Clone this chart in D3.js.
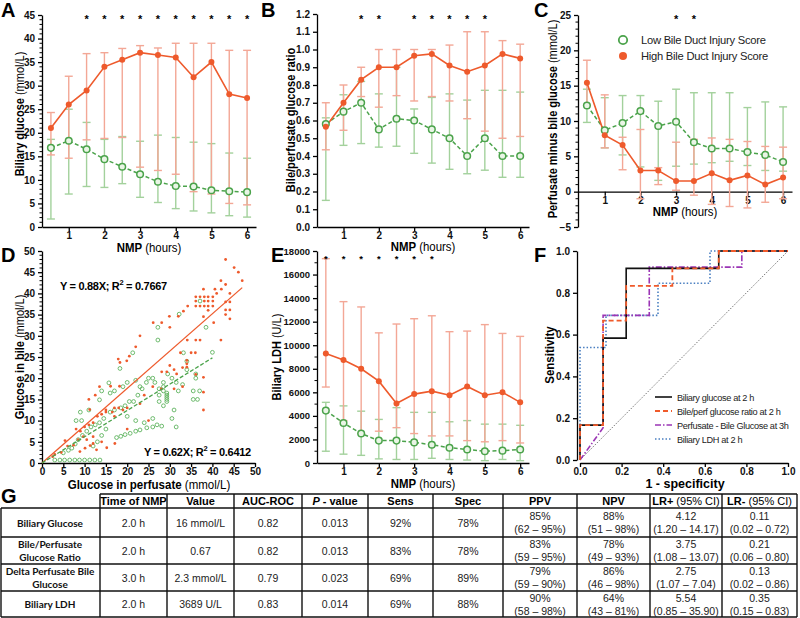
<!DOCTYPE html>
<html><head><meta charset="utf-8">
<script src="https://cdn.jsdelivr.net/npm/d3@7"></script>
<style>body{margin:0;background:#fff} svg{display:block;font-family:"Liberation Sans",Arial,sans-serif}</style>
</head><body><svg id="c" width="800" height="618"></svg>
<script>
// ---------------- DATA ----------------
const hours = [0.5,1,1.5,2,2.5,3,3.5,4,4.5,5,5.5,6];
// A: Biliary glucose
const aHighMean = [21,26,29,34,35.5,37,36.5,36,31.8,35,28.2,27.4];
const aHighUp   = [24.3,32,36.8,37,37.9,38.5,38,39,39,39,37.5,37.5];
const aHighLo   = [15.3,14.6,18.5,18.8,19,12.7,12,11.2,7.5,7,5,4.7];
const aLowMean  = [16.8,18.3,16.5,14.4,12.8,11.2,9.6,8.7,8.6,7.8,7.6,7.4];
const aLowUp    = [18.6,25,22.2,18.6,19.2,18.2,19.5,19,18,17.7,15.7,14.6];
const aLowLo    = [1.7,7,8.6,8.4,9.2,6.3,5.2,3.9,3.4,3,2.4,2.1];
const aStars    = [1.5,2,2.5,3,3.5,4,4.5,5,5.5,6];
// B: Bile/perfusate glucose ratio
const bHighMean = [0.565,0.70,0.83,0.90,0.90,0.965,0.975,0.91,0.875,0.91,0.975,0.95];
const bHighUp   = [0.70,0.80,0.90,1.0,1.0,1.0,1.0,1.025,1.10,1.10,1.05,1.03];
const bHighLo   = [0.435,0.545,0.735,0.675,0.74,0.71,0.735,0.71,0.61,0.54,0.50,0.51];
const bLowMean  = [0.58,0.65,0.70,0.55,0.61,0.60,0.55,0.50,0.40,0.50,0.40,0.40];
const bLowUp    = [0.615,0.745,0.82,0.75,0.90,0.665,0.73,0.75,0.715,0.77,0.77,0.76];
const bLowLo    = [0.15,0.46,0.47,0.45,0.455,0.415,0.36,0.325,0.30,0.32,0.28,0.28];
const bStars    = [1.5,2,3,3.5,4,4.5,5];
// C: Perfusate minus bile glucose
const cHighMean = [15.4,8.0,6.6,3.0,3.0,1.5,1.5,2.6,1.6,2.3,1.0,2.0];
const cHighUp   = [18.6,13.7,7.7,8.8,3.4,7.0,7.4,7.6,7.4,7.1,6.4,6.3];
const cHighLo   = [12.2,6.2,3.1,-1.0,1.0,0.2,-0.5,-1.8,-2.1,-2.3,-1.5,-1.0];
const cLowMean  = [12.2,8.7,9.7,11.4,9.3,9.9,7.0,6.1,6.1,5.6,5.2,4.2];
const cLowUp    = [14.5,13.3,13.6,13.6,12.8,14.5,14.0,14.0,14.0,11.9,12.7,12.0];
const cLowLo    = [9.8,6.2,5.2,3.5,1.6,3.6,3.9,4.1,4.3,3.7,3.0,2.9];
const cStars    = [3,3.5];
// E: Biliary LDH
const eHighMean = [9300,8750,8000,6950,5050,5850,6100,5750,6500,5750,6000,5150];
const eHighUp   = [17350,13700,13250,11050,11800,12250,12500,11150,11200,11750,11000,10750];
const eHighLo   = [6450,3600,2500,2700,3000,2500,2300,2300,1900,1800,1900,1700];
const eLowMean  = [4450,3400,2500,1900,1900,1750,1550,1300,1150,1000,1050,1150];
const eLowUp    = [5150,4850,4400,3700,4700,4300,4300,3500,3600,3300,3300,3200];
const eLowLo    = [1000,750,650,350,300,300,400,300,250,200,300,200];
const eStars    = [0.5,1,1.5,2,2.5,3,3.5];
// D: scatter (glucose in perfusate, glucose in bile)
const dHigh = [[43.1,48.0],[45.1,46.1],[46.1,45.0],[47.0,43.0],[42.0,43.0],[43.1,42.1],[40.6,41.0],[37.9,41.0],[42.1,41.0],[41.0,40.0],[44.1,40.0],
 [36.1,39.2],[37.1,39.2],[38.1,39.2],[39.0,39.2],[40.1,39.2],[36.1,38.2],[38.1,38.2],[39.0,38.2],[40.1,38.2],[36.1,37.0],[37.1,37.0],[38.1,37.0],[39.0,37.0],[40.1,37.0],
 [43.1,38.0],[44.1,38.0],[43.1,36.1],[44.1,36.1],[39.0,36.0],[33.2,35.8],[34.2,37.0],[29.9,34.6],[32.0,34.6],[26.1,33.1],[28.1,33.1],[30.0,32.0],[37.9,34.5],[40.3,33.1],[43.1,35.0],[44.1,34.0],[42.0,29.0],[34.1,29.0],[36.1,29.0],[37.1,29.0],[23.0,30.0],[22.0,27.4],[19.9,24.1],[20.5,25.2],[17.9,24.5],[18.3,23.7],
 [16.1,18.1],[18.2,18.1],[34.0,24.2],[34.0,23.4],[34.0,22.6],[28.1,21.5],[29.3,21.5],[31.6,21.0],[33.0,22.5],[36.1,20.9],[37.9,20.2],[37.9,16.7],[37.9,12.5],[30.0,23.0],[31.0,22.0],[32.5,26.0],[35.0,26.0],[36.0,26.0],[33.0,18.0],[31.0,17.5],[28.0,17.5],[26.0,18.0],[24.0,16.0],[23.0,14.0],[25.0,10.0],[20.0,13.0],[19.0,12.5],[18.0,13.0],[17.0,13.0],[16.5,12.0],[15.0,12.5],[14.0,11.5],[13.0,11.0],[12.0,9.5],[11.0,15.0],[12.5,16.0],[13.5,18.0],[11.2,12.6],[15.0,12.0],[17.0,11.0],[20.0,8.0],
 [5.4,5.3],[7.4,4.2],[8.9,2.7],[10.1,3.5],[11.3,4.1],[12.0,4.6],[12.8,3.1],[15.2,3.6],[17.1,4.6],[12.0,6.2],[9.7,6.2],[8.5,5.5],[10.5,5.5],[9.0,7.5],[10.0,8.5],[8.0,8.0],[11.0,9.0],[14.0,5.0],[6.0,4.0],[4.5,2.5],[2.5,1.5],[3.0,2.0]];
const dLow = [[40.0,26.1],[38.5,32.0],[37.1,38.2],[32.2,35.1],[27.2,32.0],[27.2,29.0],[21.3,26.0],[18.3,22.3],[15.7,18.9],[13.5,14.9],[9.3,10.0],[11.0,12.5],[33.2,26.0],[34.0,24.0],[36.1,21.0],[36.1,20.0],[34.0,22.0],
 [29.5,21.0],[30.5,20.0],[31.5,19.0],[33.0,18.5],[32.0,17.0],[28.5,19.0],[28.5,18.0],[28.5,17.0],[29.3,16.5],[29.3,16.0],[29.3,15.5],[29.3,15.0],[29.3,14.5],[27.5,17.5],[27.5,16.0],[27.5,14.5],[28.5,13.5],[25.0,20.0],[26.0,20.0],[26.5,19.0],[24.5,19.0],[23.5,17.5],[22.5,16.0],[21.5,14.5],[20.5,14.5],[19.5,13.5],[18.5,13.0],[17.0,12.5],[16.0,12.0],
 [35.5,17.0],[35.5,15.0],[36.5,15.0],[37.0,17.0],[31.0,12.5],[30.5,10.5],[31.5,8.5],[26.0,10.5],[27.0,9.0],[24.0,9.5],[22.0,10.0],[20.0,11.0],
 [3.0,0.7],[4.2,0.7],[5.3,0.7],[6.5,0.7],[7.7,0.7],[8.8,0.7],[10.0,0.7],[11.2,0.7],[12.4,0.7],[13.6,0.7],
 [5.0,2.4],[6.2,3.0],[7.0,3.5],[7.8,4.5],[8.5,5.5],[9.5,6.5],[10.5,7.5],[11.5,8.5],[12.5,9.0],[13.5,9.5],[14.5,10.5],[15.0,8.0],[14.0,6.5],[13.0,5.0],[12.0,4.0],
 [17.5,6.0],[18.5,6.3],[19.5,6.7],[20.7,7.0],[22.0,7.5],[23.0,7.8],[24.6,8.3],[26.0,8.5],[28.1,8.7],
 [8.0,10.0],[9.0,12.0],[14.0,17.0],[16.0,16.5],[17.0,17.0],[19.0,18.0],[20.0,19.0],[22.0,19.5],[23.0,18.0]];
const dSlopeHigh = 0.88, dSlopeLow = 0.62, dEndHigh = 47, dEndLow = 40;
// F: ROC curves [1-specificity, sensitivity]
const rocGlucose = [[0,0],[0,0.167],[0.111,0.167],[0.111,0.583],[0.222,0.583],[0.222,0.917],[0.667,0.917],[0.667,1],[1,1]];
const rocRatio   = [[0,0],[0,0.167],[0.111,0.167],[0.111,0.667],[0.222,0.667],[0.222,0.833],[0.444,0.833],[0.444,0.917],[0.667,0.917],[0.667,1],[1,1]];
const rocDelta   = [[0,0],[0.111,0.154],[0.111,0.692],[0.333,0.692],[0.333,0.923],[0.778,0.923],[0.778,1],[1,1]];
const rocLDH     = [[0,0],[0,0.538],[0.125,0.538],[0.125,0.692],[0.375,0.692],[0.375,0.846],[0.625,0.846],[0.625,1],[1,1]];
const rocNames   = ["Biliary glucose at 2 h","Bile/perf glucose ratio at 2 h","Perfusate - Bile Glucose at 3h","Biliary LDH at 2 h"];
const legendNames = ["Low Bile Duct Injury Score","High Bile Duct Injury Score"];
// G: table
const colHeads  = ["Time of NMP","Value","AUC-ROC","P - value","Sens","Spec","PPV","NPV","LR+ (95% CI)","LR- (95% CI)"];
const rowLabels = [["Biliary Glucose"],["Bile/Perfusate","Glucose Ratio"],["Delta Perfusate Bile","Glucose"],["Biliary LDH"]];
const tTime  = ["2.0 h","2.0 h","3.0 h","2.0 h"];
const tValue = ["16 mmol/L","0.67","2.3 mmol/L","3689 U/L"];
const tAUC   = ["0.82","0.82","0.79","0.83"];
const tP     = ["0.013","0.013","0.023","0.014"];
const tSens  = ["92%","83%","69%","69%"];
const tSpec  = ["78%","78%","89%","88%"];
const tPPV   = [["85%","(62 – 95%)"],["83%","(59 – 95%)"],["79%","(59 – 90%)"],["90%","(58 – 98%)"]];
const tNPV   = [["88%","(51 – 98%)"],["78%","(49 – 93%)"],["86%","(46 – 98%)"],["64%","(43 – 81%)"]];
const tLRp   = [["4.12","(1.20 – 14.17)"],["3.75","(1.08 – 13.07)"],["2.75","(1.07 – 7.04)"],["5.54","(0.85 – 35.90)"]];
const tLRn   = [["0.11","(0.02 – 0.72)"],["0.21","(0.06 – 0.80)"],["0.13","(0.02 – 0.86)"],["0.35","(0.15 – 0.83)"]];

// ---------------- STYLE ----------------
const RED="#EE5A2C", RED_L="#F3A796", GRN="#4BA34B", GRN_L="#A3D19C";
const svg = d3.select("#c");

function condense(sel,f){
  sel.each(function(){ const L=this.getComputedTextLength(); this.setAttribute("textLength",(L*f).toFixed(1)); this.setAttribute("lengthAdjust","spacingAndGlyphs"); });
  return sel;
}
function panelLetter(t,x,y){ svg.append("text").attr("x",x).attr("y",y).attr("font-size",20).attr("font-weight","bold").text(t); }
function yTitle(x,y,bold,normal,size,f){
  const t=svg.append("text").attr("transform",`translate(${x},${y}) rotate(-90)`).attr("text-anchor","middle").attr("font-size",size||12.5);
  t.append("tspan").attr("font-weight","bold").text(bold);
  if(normal) t.append("tspan").text(normal);
  condense(t,f||0.88);
}
function xTitle(x,y,bold,normal,size,f){
  const t=svg.append("text").attr("x",x).attr("y",y).attr("text-anchor","middle").attr("font-size",size||12.5);
  t.append("tspan").attr("font-weight","bold").text(bold);
  if(normal) t.append("tspan").text(normal);
  if(f) condense(t,f);
}
function styleAxis(g,fs){
  g.selectAll("path,line").attr("stroke","#000").attr("stroke-width",1.3);
  g.selectAll("text").attr("font-size",fs||10).attr("font-weight","bold").attr("font-family",'"Liberation Sans",Arial,sans-serif').attr("fill","#111");
}
function minorY(y, x0, vals){
  svg.append("g").selectAll("line").data(vals).join("line")
    .attr("x1",x0-2.5).attr("x2",x0).attr("y1",d=>y(d)).attr("y2",d=>y(d)).attr("stroke","#000").attr("stroke-width",1);
}

function timePanel(o){
  const x=d3.scaleLinear().domain([0.25,6.25]).range([o.x0,o.x1]);
  const y=d3.scaleLinear().domain(o.yDomain).range([o.yBot,o.yTop]);
  const axisY = o.zeroAxis ? y(0) : o.yBot;
  const ga=svg.append("g").attr("transform",`translate(${o.x0},0)`)
    .call(d3.axisLeft(y).tickValues(o.yTicks).tickFormat(o.fmt).tickSize(4).tickSizeOuter(0));
  styleAxis(ga,o.tickFs);
  if(o.minor) minorY(y,o.x0,o.minor);
  const gx=svg.append("g").attr("transform",`translate(0,${axisY})`)
    .call(d3.axisBottom(x).tickValues([1,2,3,4,5,6]).tickFormat(d3.format("d")).tickSize(4).tickPadding(1).tickSizeOuter(0));
  styleAxis(gx);
  const cap=4;
  function bars(up,lo,col){
    const g=svg.append("g").attr("stroke",col).attr("stroke-width",1.4);
    hours.forEach((h,i)=>{
      g.append("line").attr("x1",x(h)).attr("x2",x(h)).attr("y1",y(up[i])).attr("y2",y(lo[i]));
      g.append("line").attr("x1",x(h)-cap).attr("x2",x(h)+cap).attr("y1",y(up[i])).attr("y2",y(up[i]));
      g.append("line").attr("x1",x(h)-cap).attr("x2",x(h)+cap).attr("y1",y(lo[i])).attr("y2",y(lo[i]));
    });
  }
  bars(o.lowUp,o.lowLo,GRN_L);
  bars(o.highUp,o.highLo,RED_L);
  const line=d3.line().x((d,i)=>x(hours[i])).y(d=>y(d));
  svg.append("path").datum(o.lowMean).attr("d",line).attr("fill","none").attr("stroke",GRN).attr("stroke-width",1.5).attr("stroke-dasharray","4,2.5");
  svg.append("path").datum(o.highMean).attr("d",line).attr("fill","none").attr("stroke",RED).attr("stroke-width",1.6);
  svg.append("g").selectAll("circle").data(o.lowMean).join("circle")
    .attr("cx",(d,i)=>x(hours[i])).attr("cy",d=>y(d)).attr("r",3.3).attr("fill","#eaf5e6").attr("stroke",GRN).attr("stroke-width",1.5);
  svg.append("g").selectAll("circle").data(o.highMean).join("circle")
    .attr("cx",(d,i)=>x(hours[i])).attr("cy",d=>y(d)).attr("r",3).attr("fill",RED);
  svg.append("g").selectAll("text").data(o.stars).join("text")
    .attr("x",d=>x(d)).attr("y",o.starY).attr("text-anchor","middle").attr("font-size",o.starFs||11).attr("font-weight","bold").text("*");
  xTitle((o.x0+o.x1)/2,o.xTitleY,"NMP"," (hours)",12,0.95);
  return {x,y};
}

// ---- A ----
panelLetter("A",1,17);
timePanel({x0:42,x1:256,yTop:15,yBot:227,yDomain:[0,45],yTicks:d3.range(0,46,5),fmt:d3.format("d"),
  minor:d3.range(0,46,1).filter(v=>v%5),
  highMean:aHighMean,highUp:aHighUp,highLo:aHighLo,lowMean:aLowMean,lowUp:aLowUp,lowLo:aLowLo,stars:aStars,starY:23,xTitleY:252});
yTitle(24,114,"Biliary glucose"," (mmol/L)");

// ---- B ----
panelLetter("B",261,17);
timePanel({x0:317,x1:529,yTop:14,yBot:227,yDomain:[0,1.2],yTicks:d3.range(0,13).map(v=>v/10),fmt:d3.format(".1f"),
  highMean:bHighMean,highUp:bHighUp,highLo:bHighLo,lowMean:bLowMean,lowUp:bLowUp,lowLo:bLowLo,stars:bStars,starY:23,xTitleY:251});
yTitle(295,120,"Bile/perfusate glucose ratio","");

// ---- C ----
panelLetter("C",534,17);
timePanel({x0:578,x1:792,yTop:15,yBot:227,yDomain:[-5,25],yTicks:d3.range(-5,26,5),fmt:d3.format("d"),zeroAxis:true,
  minor:d3.range(-5,26,1).filter(v=>v%5),
  highMean:cHighMean,highUp:cHighUp,highLo:cHighLo,lowMean:cLowMean,lowUp:cLowUp,lowLo:cLowLo,stars:cStars,starY:23,xTitleY:216});
yTitle(557,119,"Perfusate minus bile glucose"," (mmol/L)");
svg.append("circle").attr("cx",623).attr("cy",40).attr("r",4.2).attr("fill","#fff").attr("stroke",GRN).attr("stroke-width",1.8);
svg.append("circle").attr("cx",623).attr("cy",56).attr("r",4).attr("fill",RED);
svg.append("g").selectAll("text").data(legendNames).join("text").attr("x",641).attr("y",(d,i)=>44+i*16)
  .attr("font-size",11.2).attr("letter-spacing",-0.25).attr("fill","#222").text(d=>d);

// ---- D ----
panelLetter("D",1,262);
{
  const x=d3.scaleLinear().domain([0,50]).range([42,255]);
  const y=d3.scaleLinear().domain([0,50]).range([463,251]);
  const ga=svg.append("g").attr("transform","translate(42,0)").call(d3.axisLeft(y).tickValues(d3.range(0,51,5)).tickSize(4).tickSizeOuter(0));
  styleAxis(ga); minorY(y,42,d3.range(0,51,1).filter(v=>v%5));
  const gx=svg.append("g").attr("transform","translate(0,463)").call(d3.axisBottom(x).tickValues(d3.range(0,51,5)).tickSize(4).tickPadding(1).tickSizeOuter(0));
  styleAxis(gx);
  svg.append("g").selectAll("circle").data(dLow).join("circle").attr("cx",d=>x(d[0])).attr("cy",d=>y(d[1])).attr("r",1.9)
    .attr("fill","none").attr("stroke","#5fb35f").attr("stroke-width",0.9);
  svg.append("g").selectAll("circle").data(dHigh).join("circle").attr("cx",d=>x(d[0])).attr("cy",d=>y(d[1])).attr("r",1.4).attr("fill",RED);
  svg.append("line").attr("x1",x(0)).attr("y1",y(0)).attr("x2",x(dEndHigh)).attr("y2",y(dEndHigh*dSlopeHigh)).attr("stroke",RED).attr("stroke-width",1.3);
  svg.append("line").attr("x1",x(0)).attr("y1",y(0)).attr("x2",x(dEndLow)).attr("y2",y(dEndLow*dSlopeLow)).attr("stroke",GRN).attr("stroke-width",1.3).attr("stroke-dasharray","4,2");
  function eq(xp,yp,s,r){
    const t=svg.append("text").attr("x",xp).attr("y",yp).attr("font-size",11).attr("font-weight","bold").attr("letter-spacing",-0.3);
    t.append("tspan").text(`Y = ${s}X; R`);
    t.append("tspan").attr("font-size",7.5).attr("dy",-5).text("2");
    t.append("tspan").attr("dy",5).text(` = ${r}`);
  }
  eq(60,290,dSlopeHigh.toFixed(2),"0.7667");
  eq(144,456,dSlopeLow.toFixed(2),"0.6412");
  xTitle(149,489,"Glucose in perfusate"," (mmol/L)",12,0.96);
  yTitle(24,357,"Glucose in bile"," (mmol/L)");
}

// ---- E ----
panelLetter("E",271,262);
timePanel({x0:317,x1:529,yTop:251,yBot:463,yDomain:[0,18000],yTicks:d3.range(0,18001,2000),fmt:d3.format("d"),tickFs:9.5,
  minor:d3.range(1000,18000,2000),
  highMean:eHighMean,highUp:eHighUp,highLo:eHighLo,lowMean:eLowMean,lowUp:eLowUp,lowLo:eLowLo,stars:eStars,starY:262,starFs:9.5,xTitleY:488});
yTitle(281,357,"Biliary LDH"," (U/L)");

// ---- F ----
panelLetter("F",534,262);
{
  const x=d3.scaleLinear().domain([0,1]).range([580,788]);
  const y=d3.scaleLinear().domain([0,1]).range([460,251]);
  const f=d3.format(".1f");
  const ga=svg.append("g").attr("transform","translate(577,0)").call(d3.axisLeft(y).tickValues(d3.range(0,6).map(v=>v/5)).tickFormat(f).tickSize(4).tickSizeOuter(0));
  styleAxis(ga);
  const gx=svg.append("g").attr("transform","translate(0,463)").call(d3.axisBottom(x).tickValues(d3.range(0,6).map(v=>v/5)).tickFormat(f).tickSize(4).tickPadding(1).tickSizeOuter(0));
  styleAxis(gx);
  svg.append("line").attr("x1",x(0)).attr("y1",y(0)).attr("x2",x(1)).attr("y2",y(1)).attr("stroke","#555").attr("stroke-width",0.8).attr("stroke-dasharray","1.5,1.5");
  const ln=d3.line().x(d=>x(d[0])).y(d=>y(d[1]));
  const styles=[{c:"#4A7FC1",w:1.6,da:"1.5,2",data:rocLDH},{c:"#9B35B5",w:1.6,da:"6,2,1.5,2",data:rocDelta},{c:"#111",w:1.6,da:null,data:rocGlucose},{c:"#F05A2A",w:1.8,da:"5,3",data:rocRatio}];
  styles.forEach(s=>{ const p=svg.append("path").datum(s.data).attr("d",ln).attr("fill","none").attr("stroke",s.c).attr("stroke-width",s.w); if(s.da) p.attr("stroke-dasharray",s.da); });
  const legStyles=[styles[2],styles[3],styles[1],styles[0]];
  rocNames.forEach((n,i)=>{
    const yy=397+i*14;
    const l=svg.append("line").attr("x1",655).attr("x2",672).attr("y1",yy).attr("y2",yy).attr("stroke",legStyles[i].c).attr("stroke-width",legStyles[i].w);
    if(legStyles[i].da) l.attr("stroke-dasharray",legStyles[i].da);
    svg.append("text").attr("x",677).attr("y",yy+3.5).attr("font-size",9.2).attr("letter-spacing",-0.35).attr("fill","#222").text(n);
  });
  xTitle(685,488,"1 - specificity","",12.5);
  yTitle(554,355,"Sensitivity","",12.5,0.92);
}

// ---- G: table ----
panelLetter("G",1,503);
{
  const cols=[100,167,234,302,368,433,503,577,650,722,797];
  const rows=[508,537,564,591,617];
  const tg=svg.append("g").attr("stroke","#111").attr("stroke-width",1.4);
  tg.append("line").attr("x1",100).attr("x2",797).attr("y1",494).attr("y2",494);
  rows.forEach(r=>tg.append("line").attr("x1",1).attr("x2",797).attr("y1",r).attr("y2",r));
  cols.forEach(c=>tg.append("line").attr("x1",c).attr("x2",c).attr("y1",494).attr("y2",617));
  tg.append("line").attr("x1",1).attr("x2",1).attr("y1",508).attr("y2",617);
  const cx=i=>(cols[i]+cols[i+1])/2;
  colHeads.forEach((h,i)=>{
    const t=svg.append("text").attr("x",cx(i)).attr("y",505).attr("text-anchor","middle").attr("font-size",11);
    if(i===3){ t.append("tspan").attr("font-weight","bold").attr("font-style","italic").text("P"); t.append("tspan").attr("font-weight","bold").text(" - value"); }
    else if(i>=8){ const p=h.split(" "); t.append("tspan").attr("font-weight","bold").text(p[0]); t.append("tspan").text(" "+p.slice(1).join(" ")); }
    else t.attr("font-weight","bold").text(h);
  });
  rowLabels.forEach((lab,r)=>{
    const mid=(rows[r]+rows[r+1])/2;
    lab.forEach((s,k)=>{
      svg.append("text").attr("x",50).attr("y",mid+4+(k-(lab.length-1)/2)*13).attr("text-anchor","middle")
        .attr("font-family","Lato, 'Open Sans', sans-serif").attr("font-weight","bold").attr("font-size",10).attr("fill","#111").text(s);
    });
    const single=[tTime,tValue,tAUC,tP,tSens,tSpec];
    single.forEach((arr,i)=>svg.append("text").attr("x",cx(i)).attr("y",mid+4).attr("text-anchor","middle").attr("font-size",10.5).attr("fill","#222").text(arr[r]));
    [tPPV,tNPV,tLRp,tLRn].forEach((arr,j)=>{
      arr[r].forEach((s,k)=>svg.append("text").attr("x",cx(6+j)).attr("y",mid-2.5+k*13).attr("text-anchor","middle").attr("font-size",10.5).attr("fill","#222").text(s));
    });
  });
}
</script></body></html>
